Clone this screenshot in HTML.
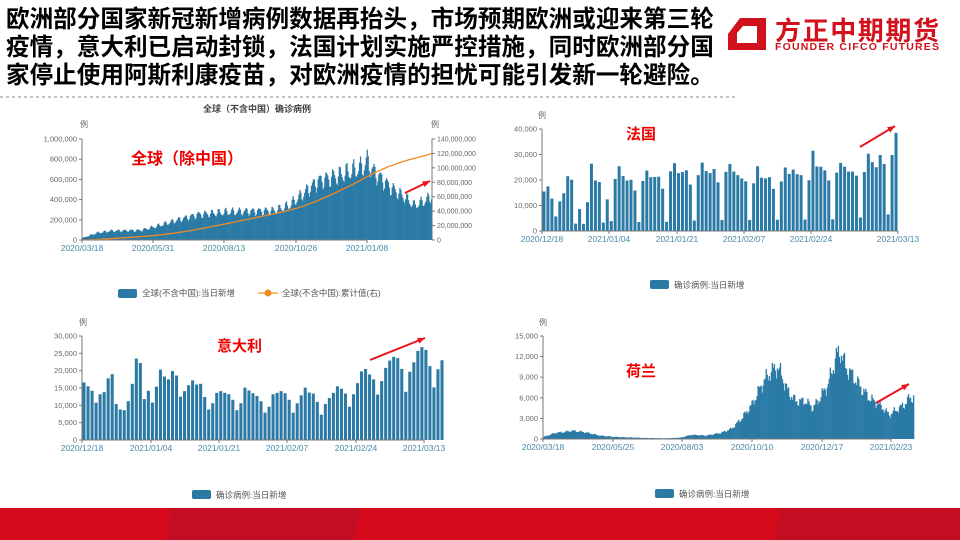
<!DOCTYPE html>
<html><head><meta charset="utf-8"><style>
body{margin:0;width:960px;height:540px;overflow:hidden;background:#fff;font-family:"Liberation Sans","Noto Sans CJK SC",sans-serif;position:relative}
.t{position:absolute;left:6px;top:6px;font-size:23.6px;font-weight:bold;line-height:28px;color:#000;font-family:"Liberation Sans","Noto Sans CJK SC",sans-serif;white-space:nowrap}
svg{position:absolute;left:0;top:0}
</style></head><body>
<div class="t">欧洲部分国家新冠新增病例数据再抬头，市场预期欧洲或迎来第三轮<br>疫情，意大利已启动封锁，法国计划实施严控措施，同时欧洲部分国<br>家停止使用阿斯利康疫苗，对欧洲疫情的担忧可能引发新一轮避险。</div>
<svg id="s" width="960" height="540" xmlns="http://www.w3.org/2000/svg" font-family="Liberation Sans, Noto Sans CJK SC, sans-serif">
<line x1="0" y1="97" x2="736" y2="97" stroke="#888" stroke-dasharray="3,3" stroke-width="1"/>
<!-- logo -->
<path d="M740 18 L766 18 L766 50 L728 50 L728 34 Z M743 26 L737 33 L737 43 L757 43 L757 26 Z" fill="#d1121c" fill-rule="evenodd"/>
<text x="775" y="40" font-size="26" font-weight="bold" fill="#d1121c" font-family="Noto Sans CJK SC, sans-serif" textLength="164">方正中期期货</text>
<text x="775" y="50" font-size="10.5" font-weight="bold" fill="#d1121c" textLength="164">FOUNDER CIFCO FUTURES</text>
<!-- bottom band -->
<rect x="0" y="508" width="960" height="32" fill="#d50b1b"/>
<polygon points="172,508 360,508 355,540 165,540" fill="#c40d24"/>
<polygon points="780,508 960,508 960,540 775,540" fill="#c50d22"/>
<g id="g"></g>
</svg>
<script>
var g=document.getElementById('g'),h='';
var C='#2b7aa6',AX='#777',TX='#666';
function T(x,y,s,o){o=o||{};h+='<text x="'+x+'" y="'+y+'" font-size="'+(o.fs||7.5)+'" fill="'+(o.c||TX)+'"'+(o.a?' text-anchor="'+o.a+'"':'')+(o.w?' font-weight="bold"':'')+'>'+s+'</text>';}
function L(x1,y1,x2,y2,c,w){h+='<line x1="'+x1+'" y1="'+y1+'" x2="'+x2+'" y2="'+y2+'" stroke="'+(c||AX)+'" stroke-width="'+(w||1)+'"/>';}
function interp(k,d){for(var i=0;i<k.length-1;i++){if(d>=k[i][0]&&d<=k[i+1][0]){var t=(d-k[i][0])/(k[i+1][0]-k[i][0]);return k[i][1]+t*(k[i+1][1]-k[i][1]);}}return k[k.length-1][1];}
function arrow(x1,y1,x2,y2){L(x1,y1,x2,y2,'#e8141c',2);var a=Math.atan2(y2-y1,x2-x1),s=8;h+='<polygon points="'+x2+','+y2+' '+(x2-s*Math.cos(a-0.4))+','+(y2-s*Math.sin(a-0.4))+' '+(x2-s*Math.cos(a+0.4))+','+(y2-s*Math.sin(a+0.4))+'" fill="#e8141c"/>';}
function yaxis(x,top,bot,labels){L(x,top,x,bot);for(var i=0;i<labels.length;i++){var y=bot-(bot-top)*i/(labels.length-1);L(x-3,y,x,y);T(x-5,y+2.5,labels[i],{a:'end'});}}
function bars(x0,x1,top,bot,data,max,gap){var n=data.length,w=(x1-x0)/n;for(var i=0;i<n;i++){var bh=(bot-top)*data[i]/max;h+='<rect x="'+(x0+i*w+(gap?w*0.12:0)).toFixed(2)+'" y="'+(bot-bh).toFixed(2)+'" width="'+(gap?w*0.76:w+0.3).toFixed(2)+'" height="'+bh.toFixed(2)+'" fill="'+C+'"/>';}}
function xlab(bot,arr){L(arr[0][0],bot,arr[arr.length-1][0],bot);arr.forEach(function(a){L(a[0],bot,a[0],bot+3);T(a[0],bot+11,a[1],{a:'middle',c:'#4a8aa8',fs:8.5});});}
function legend(x,y,s){h+='<rect x="'+x+'" y="'+(y-5)+'" width="19" height="9" rx="2" fill="'+C+'"/>';T(x+24,y+3,s,{fs:8.5,c:'#555'});}

// Chart 1
T(257,112,'全球（不含中国）确诊病例',{a:'middle',fs:9,w:1,c:'#444'});
T(80,127,'例',{fs:8});T(431,127,'例',{fs:8});
yaxis(82,139,240,['0','200,000','400,000','600,000','800,000','1,000,000']);
L(432,139,432,240);
['0','20,000,000','40,000,000','60,000,000','80,000,000','100,000,000','120,000,000','140,000,000'].forEach(function(s,i){var y=240-101*i/7;L(432,y,435,y);T(437,y+2.5,s,{fs:7});});
var k1=[[0,20],[15,70],[30,90],[60,95],[75,130],[100,200],[120,250],[150,275],[200,290],[215,340],[230,460],[245,580],[265,630],[280,680],[292,720],[296,780],[302,680],[320,520],[335,420],[345,340],[355,380],[363,430]];
var d1=[],cum=[],s=0;for(var i=0;i<=363;i++){var v=interp(k1,i)*(1+0.13*Math.sin(i*2*Math.PI/7)+0.04*Math.sin(i*1.7));d1.push(v);s+=v;cum.push(s);}
bars(82,432,139,240,d1,1000,false);
var p='';for(i=0;i<cum.length;i++){p+=(i?'L':'M')+(82+i*350/363).toFixed(1)+' '+(240-101*(cum[i]/s*120)/140).toFixed(1);}
h+='<path d="'+p+'" fill="none" stroke="#f08a24" stroke-width="1.3"/>';
xlab(240,[[82,'2020/03/18'],[153,'2020/05/31'],[224,'2020/08/13'],[296,'2020/10/26'],[367,'2021/01/08']]);
h+='<rect x="118" y="289" width="19" height="9" rx="2" fill="'+C+'"/>';T(142,296,'全球(不含中国):当日新增',{fs:8.5,c:'#555'});
L(258,293,278,293,'#f08a24',1.3);h+='<circle cx="268" cy="293" r="3.5" fill="#f08a24"/>';T(282,296,'全球(不含中国):累计值(右)',{fs:8.5,c:'#555'});
T(131,164,'全球（除中国）',{fs:16,c:'#e00',w:1});
arrow(405,193,430,181);

// Chart 2 France
var fr=[15.5,17.5,12.7,5.7,11.6,14.8,21.5,20.1,2.9,8.6,2.8,11.3,26.4,19.8,19.2,3.3,12.4,3.9,20.4,25.4,21.6,19.8,20.1,15.9,3.5,19.6,23.7,21.1,21.2,21.3,16.6,3.6,23.4,26.6,22.7,23.1,23.8,18.2,4.1,21.9,26.8,23.5,22.7,24.3,19.1,4.3,23.2,26.3,23.3,21.9,20.6,19.5,4.3,18.7,25.4,20.9,20.6,21.1,16.5,4.4,19.4,24.9,22.4,24.1,22.3,21.9,4.5,19.9,31.5,25.3,25.2,23.8,19.8,4.6,22.9,26.7,25.2,23.3,23.3,21.7,5.3,23.1,30.3,27,25,29.8,26.3,6.5,29.8,38.5];
T(538,118,'例',{fs:8});
bars(542,898,129,231,fr,40,true);
yaxis(542,129,231,['0','10,000','20,000','30,000','40,000']);
xlab(231,[[542,'2020/12/18'],[609,'2021/01/04'],[677,'2021/01/21'],[744,'2021/02/07'],[811,'2021/02/24'],[898,'2021/03/13']]);
legend(650,285,'确诊病例:当日新增');
T(626,139,'法国',{fs:15,c:'#e00',w:1});
arrow(860,147,895,126);

// Chart 3 Italy
var it=[16.6,15.5,14.2,10.8,13.2,13.8,17.8,19,10.4,8.8,8.6,11.2,16.2,23.5,22.2,11.8,14.2,10.8,15.4,20.3,18.3,17.5,19.9,18.6,12.5,14.1,15.8,17.2,16,16.2,12.4,8.8,10.6,13.6,14.1,13.6,13.2,11.6,8.6,10.6,15.1,14.3,13.5,12.7,11.2,7.9,9.6,13.2,13.6,14.1,13.5,11.6,7.9,10.6,12.9,15.1,13.7,13.4,11,7.3,10.4,12.1,13.6,15.5,14.8,13.4,9.6,13.2,16.4,19.8,20.5,18.9,17.5,13.1,17,20.8,22.9,24,23.6,20.5,13.9,19.7,22.4,25.7,26.8,26,21.3,15.2,20.4,23];
T(79,325,'例',{fs:8});
bars(82,444,336,440,it,30,true);
yaxis(82,336,440,['0','5,000','10,000','15,000','20,000','25,000','30,000']);
xlab(440,[[82,'2020/12/18'],[151,'2021/01/04'],[219,'2021/01/21'],[287,'2021/02/07'],[356,'2021/02/24'],[424,'2021/03/13']]);
legend(192,495,'确诊病例:当日新增');
T(217,351,'意大利',{fs:15,c:'#e00',w:1});
arrow(370,360,425,338);

// Chart 4 Netherlands
var k4=[[0,0.3],[12,0.9],[20,1.0],[28,1.2],[40,1.0],[55,0.5],[70,0.3],[100,0.15],[120,0.1],[135,0.2],[145,0.6],[160,0.5],[175,0.9],[185,1.5],[195,3],[205,5],[215,8],[222,9.5],[230,10.5],[235,9],[240,7],[248,5.5],[258,5.5],[265,4.5],[272,6],[280,8],[288,12],[292,12.8],[297,10.5],[305,9],[312,7.5],[320,6],[332,4.8],[340,3.5],[345,4],[355,5],[360,6],[364,6]];
var d4=[];for(i=0;i<=364;i++){var v=interp(k4,i);d4.push(Math.max(0.02,v*(1+0.1*Math.sin(i*2*Math.PI/7)+0.06*Math.sin(i*2.3))));}
T(539,325,'例',{fs:8});
bars(543,914,336,439,d4,15,false);
yaxis(543,336,439,['0','3,000','6,000','9,000','12,000','15,000']);
xlab(439,[[543,'2020/03/18'],[613,'2020/05/25'],[682,'2020/08/03'],[752,'2020/10/10'],[822,'2020/12/17'],[891,'2021/02/23']]);
legend(655,494,'确诊病例:当日新增');
T(626,376,'荷兰',{fs:15,c:'#e00',w:1});
arrow(876,403,909,384);
g.innerHTML=h;
</script>
</body></html>
